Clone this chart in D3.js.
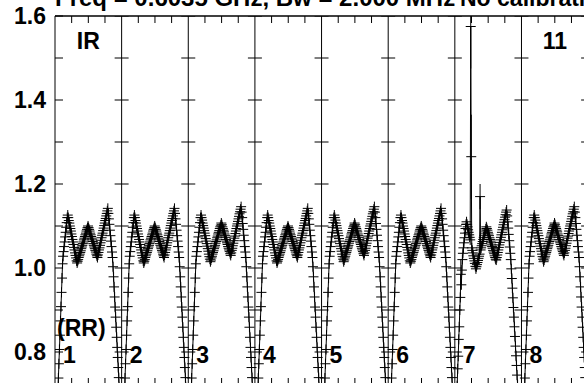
<!DOCTYPE html>
<html><head><meta charset="utf-8">
<script src="https://cdn.jsdelivr.net/npm/d3@7"></script>
<style>
html,body{margin:0;padding:0;background:#fff;overflow:hidden;}
svg{display:block;}
text{font-family:"Liberation Sans",Arial,Helvetica,sans-serif;font-weight:bold;fill:#000;}
</style></head><body>
<svg id="c" width="584" height="383"></svg>
<script>
const titleLeft = "Freq = 0.6035 GHz, Bw = 2.000 MHz";
const titleRight = "No calibration applied";
const panelLabels = ["1","2","3","4","5","6","7","8"];
const topLabels = [{panel:0, text:"IR"}, {panel:7, text:"11"}];
const polLabel = "(RR)";
const yTickLabels = [0.8, 1.0, 1.2, 1.4, 1.6];
const yMinorTicks = [0.8, 0.9, 1.0, 1.1, 1.2, 1.3, 1.4, 1.5, 1.6];
const nChan = 128;
const nPanels = 8;

// amplitude per channel (128 channels per panel)
const specA = [0.534,0.568,0.602,0.636,0.670,0.704,0.738,0.772,0.806,0.840,
 0.874,0.908,0.942,0.976,1.010,1.028,1.039,1.051,1.062,1.074,
 1.085,1.097,1.108,1.120,1.126,1.120,1.113,1.107,1.100,1.094,
 1.088,1.081,1.075,1.068,1.062,1.056,1.049,1.043,1.036,1.030,
 1.024,1.017,1.012,1.016,1.020,1.025,1.029,1.033,1.037,1.041,
 1.046,1.050,1.054,1.058,1.062,1.067,1.071,1.075,1.079,1.083,
 1.088,1.092,1.096,1.100,1.096,1.092,1.088,1.083,1.079,1.075,
 1.071,1.067,1.063,1.058,1.054,1.050,1.046,1.042,1.038,1.033,
 1.029,1.025,1.031,1.037,1.043,1.048,1.054,1.060,1.066,1.072,
 1.078,1.083,1.089,1.095,1.101,1.107,1.113,1.118,1.124,1.130,
 1.136,1.142,1.130,1.117,1.104,1.090,1.077,1.064,1.051,1.038,
 1.025,1.003,0.979,0.955,0.931,0.907,0.883,0.859,0.835,0.811,
 0.787,0.763,0.739,0.715,0.691,0.667,0.643,0.619];
const specB = [0.534,0.568,0.602,0.636,0.670,0.704,0.738,0.772,0.806,0.840,
 0.874,0.908,0.942,0.976,1.010,1.028,1.039,1.051,1.062,1.074,
 1.085,1.097,1.108,1.120,1.126,1.120,1.114,1.107,1.101,1.095,
 1.089,1.083,1.077,1.070,1.064,1.058,1.052,1.046,1.040,1.033,
 1.027,1.021,1.015,1.019,1.024,1.028,1.033,1.037,1.041,1.046,
 1.050,1.054,1.059,1.063,1.067,1.072,1.076,1.081,1.085,1.089,
 1.094,1.098,1.102,1.107,1.103,1.098,1.094,1.090,1.086,1.081,
 1.077,1.073,1.068,1.064,1.060,1.056,1.051,1.047,1.043,1.039,
 1.034,1.030,1.036,1.042,1.047,1.053,1.059,1.065,1.071,1.076,
 1.082,1.088,1.094,1.100,1.105,1.111,1.117,1.123,1.129,1.134,
 1.140,1.146,1.133,1.120,1.106,1.092,1.078,1.065,1.051,1.038,
 1.025,1.003,0.979,0.955,0.931,0.907,0.883,0.859,0.835,0.811,
 0.787,0.763,0.739,0.715,0.691,0.667,0.643,0.619];
const spec7 = [0.58,0.61,0.65,0.69,0.72,0.76,0.79,0.83,0.86,0.90,
 0.93,0.985,0.96,0.995,1.02,1.035,1.048,1.06,1.072,1.083,
 1.094,1.104,1.11,1.104,1.098,1.091,1.085,1.079,1.073,1.067,
 1.575,1.265,1.048,1.042,1.036,1.029,1.023,1.017,1.011,1.004,
 0.998,1.003,1.008,1.013,1.018,1.023,1.028,1.033,1.17,1.043,
 1.048,1.053,1.058,1.063,1.068,1.073,1.078,1.083,1.088,1.093,
 1.098,1.094,1.09,1.085,1.081,1.077,1.072,1.068,1.064,1.06,
 1.055,1.051,1.047,1.042,1.038,1.034,1.029,1.025,1.021,1.019,
 1.025,1.031,1.037,1.043,1.049,1.055,1.061,1.067,1.073,1.079,
 1.085,1.091,1.097,1.103,1.109,1.115,1.121,1.127,1.133,1.138,
 1.124,1.11,1.095,1.08,1.065,1.05,1.035,1.02,0.998,0.975,
 0.952,0.929,0.906,0.883,0.86,0.837,0.814,0.791,0.768,0.745,
 0.722,0.699,0.676,0.653,0.63,0.607,0.584,0.561];
const panelSpectra = [specA, specA, specB, specA, specB, specA, spec7, specB];
const sigmaDefault = 0.012;
const sigmaOverrides = [
  {panel:6, chan:11, err:0.035},
  {panel:6, chan:30, err:0.1},
  {panel:6, chan:31, err:0.1},
  {panel:6, chan:48, err:0.03}
];

(function draw() {
const svg = d3.select("#c");
const padL = 55, padT = 16, padB = 385, panelW = 66.64;
const x = d3.scaleLinear().domain([0, nPanels]).range([padL, padL + nPanels * panelW]);
const y = d3.scaleLinear().domain([0.8, 1.6]).range([352, 16]);

svg.append("defs").append("clipPath").attr("id","clip")
  .append("rect").attr("x", padL).attr("y", padT).attr("width", nPanels*panelW).attr("height", padB-padT);

const g = svg.append("g").attr("clip-path","url(#clip)");

for (let p = 1; p <= nPanels; p++) {
  const bx = x(p);
  g.append("line").attr("x1",bx).attr("x2",bx).attr("y1",padT).attr("y2",padB)
    .attr("stroke","#000").attr("stroke-width",1);
  yMinorTicks.forEach(v => {
    g.append("line").attr("x1",bx-7).attr("x2",bx+7).attr("y1",y(v)).attr("y2",y(v))
      .attr("stroke","#000").attr("stroke-width",1);
  });
}
for (let p = 0; p < nPanels; p++) {
  [0.25,0.5,0.75].forEach(f => {
    const tx = x(p+f);
    g.append("line").attr("x1",tx).attr("x2",tx).attr("y1",padT).attr("y2",padT+7).attr("stroke","#000");
    g.append("line").attr("x1",tx).attr("x2",tx).attr("y1",padB).attr("y2",padB-7).attr("stroke","#000");
  });
}

const errFor = (p,i) => {
  const o = sigmaOverrides.find(s => s.panel===p && s.chan===i);
  return o ? o.err : sigmaDefault;
};
panelSpectra.forEach((spec, p) => {
  const pts = spec.map((v,i) => ({x: x(p + (i+0.5)/nChan), v, e: errFor(p,i)}));
  g.append("path").datum(pts)
    .attr("d", d3.line().x(d=>d.x).y(d=>y(d.v)))
    .attr("fill","none").attr("stroke","#000").attr("stroke-width",1);
  const cg = g.append("g");
  cg.selectAll("line.h").data(pts).join("line").attr("class","h")
    .attr("x1",d=>d.x-5).attr("x2",d=>d.x+5).attr("y1",d=>y(d.v)).attr("y2",d=>y(d.v))
    .attr("stroke","#000").attr("stroke-width",1);
  cg.selectAll("line.v").data(pts).join("line").attr("class","v")
    .attr("x1",d=>d.x).attr("x2",d=>d.x).attr("y1",d=>y(d.v+d.e)).attr("y2",d=>y(d.v-d.e))
    .attr("stroke","#000").attr("stroke-width",1);
});

svg.append("line").attr("x1",padL).attr("x2",padL).attr("y1",padT).attr("y2",padB).attr("stroke","#000").attr("stroke-width",1);
svg.append("line").attr("x1",padL).attr("x2",padL+nPanels*panelW).attr("y1",padT).attr("y2",padT).attr("stroke","#000").attr("stroke-width",1.6);
svg.append("line").attr("x1",padL).attr("x2",padL+nPanels*panelW).attr("y1",padB).attr("y2",padB).attr("stroke","#000").attr("stroke-width",1.6);
yMinorTicks.forEach(v => {
  svg.append("line").attr("x1",padL).attr("x2",padL+8).attr("y1",y(v)).attr("y2",y(v)).attr("stroke","#000");
});

svg.selectAll("text.yl").data(yTickLabels).join("text").attr("class","yl")
  .attr("x",46).attr("y",d=>y(d)+8).attr("text-anchor","end").attr("font-size",23)
  .text(d=>d3.format(".1f")(d));

svg.append("text").attr("x",55).attr("y",6).attr("font-size",24).text(titleLeft);
svg.append("text").attr("x",460).attr("y",6).attr("font-size",23).text(titleRight);

topLabels.forEach(t => {
  svg.append("text").attr("x", x(t.panel+0.5)).attr("y",49).attr("text-anchor","middle")
    .attr("font-size",23).text(t.text);
});
svg.append("text").attr("x", x(0)+2).attr("y",336).attr("font-size",23).text(polLabel);
panelLabels.forEach((t,p) => {
  svg.append("text").attr("x", x(p)+8).attr("y",363).attr("font-size",23).text(t);
});
})();
</script>
</body></html>
